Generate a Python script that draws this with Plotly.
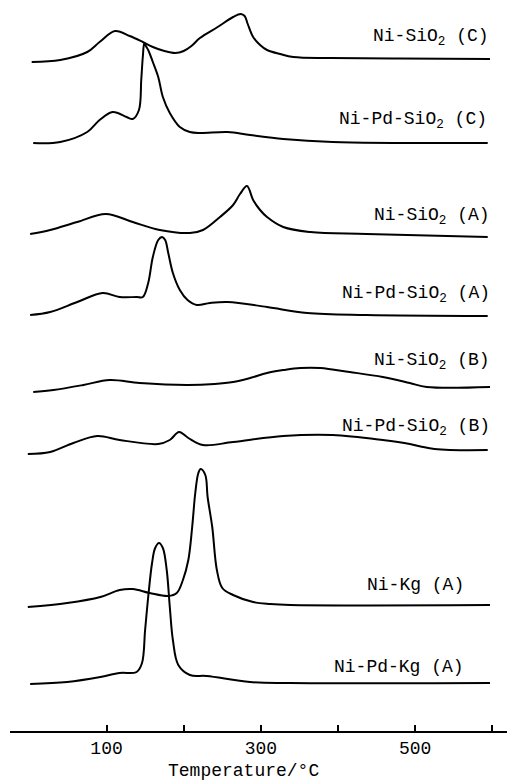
import plotly.graph_objects as go

# Temperature-programmed reduction profiles (signal in arbitrary units, offset per trace)
names = ["Ni-SiO<sub>2</sub> (C)", "Ni-Pd-SiO<sub>2</sub> (C)",
         "Ni-SiO<sub>2</sub> (A)", "Ni-Pd-SiO<sub>2</sub> (A)",
         "Ni-SiO<sub>2</sub> (B)", "Ni-Pd-SiO<sub>2</sub> (B)",
         "Ni-Kg (A)", "Ni-Pd-Kg (A)"]
offsets = [669, 588, 497, 416, 339, 277, 124, 47]

t_ni_si_c = [3, 40, 75, 91, 111, 130, 147, 160, 175, 189, 200, 210, 221, 244, 264, 274, 279, 283, 290, 299, 308, 325, 342, 390, 480, 597]
s_ni_si_c = [0, 2, 10, 20, 31, 26, 20, 15, 11, 9, 11, 16, 24, 35, 45, 48, 46, 38, 25, 17, 12, 8, 5, 4, 3.5, 3]

t_nipd_si_c = [5, 40, 75, 91, 108, 126, 134, 142, 145, 147, 149, 151, 154, 160, 167, 173, 182, 195, 208, 221, 257, 286, 329, 393, 594]
s_nipd_si_c = [0, 1, 11, 23, 31, 26, 24, 33, 63, 86, 100, 97, 93, 81, 66, 46, 30, 16, 11, 10, 11, 8, 4, 1, 0]

t_ni_si_a = [1, 27, 62, 99, 134, 169, 208, 225, 247, 264, 273, 282, 290, 299, 308, 329, 364, 437, 594]
s_ni_si_a = [0, 4, 12, 20, 12, 4, 1, 4, 17, 29, 40, 48, 34, 24, 17, 7, 2, 0, -3]

t_nipd_si_a = [1, 27, 62, 95, 117, 139, 147, 154, 160, 167, 172, 176, 180, 186, 195, 205, 217, 234, 257, 308, 360, 437, 594]
s_nipd_si_a = [0, 3, 13, 22, 18, 18, 18, 32, 58, 75, 78, 75, 62, 42, 25, 15, 10, 12, 13, 8, 2, 0, -1]

t_ni_si_b = [5, 31, 70, 104, 143, 204, 240, 264, 286, 308, 330, 351, 377, 415, 458, 493, 515, 597]
s_ni_si_b = [0, 2, 7, 12, 9, 7, 8, 10, 14, 19, 22, 24, 24, 20, 15, 9, 5, 5]

t_nipd_si_b = [-2, 27, 57, 88, 117, 167, 182, 194, 206, 225, 264, 329, 393, 458, 493, 510, 525, 545, 594]
s_nipd_si_b = [0, 2, 11, 18, 14, 10, 14, 22, 16, 9, 12, 18, 19, 14, 10, 7, 5, 4, 4]

t_ni_kg_a = [-2, 49, 92, 117, 134, 156, 180, 191, 199, 206, 211, 215, 219, 222, 228, 231, 237, 243, 250, 264, 290, 312, 338, 597]
s_ni_kg_a = [0, 4, 10, 17, 18, 14, 11, 14, 27, 47, 80, 114, 134, 138, 132, 110, 80, 37, 19, 12, 5, 3, 2, 2]

t_nipd_kg_a = [1, 49, 92, 117, 139, 146, 150, 154, 159, 163, 168, 173, 178, 182, 186, 193, 208, 230, 286, 338, 597]
s_nipd_kg_a = [0, 2, 7, 11, 12, 21, 54, 87, 121, 136, 141, 136, 114, 77, 44, 19, 9, 8, 2, 1, 1]

temps = [t_ni_si_c, t_nipd_si_c, t_ni_si_a, t_nipd_si_a,
         t_ni_si_b, t_nipd_si_b, t_ni_kg_a, t_nipd_kg_a]
signals = [s_ni_si_c, s_nipd_si_c, s_ni_si_a, s_nipd_si_a,
           s_ni_si_b, s_nipd_si_b, s_ni_kg_a, s_nipd_kg_a]

# label anchor (right edge temperature, vertical level)
label_x = [598, 596, 600, 600, 600, 600, 566, 566]
label_y = [694, 611, 515, 437, 370, 304, 146, 64]

tick_vals = [100, 200, 300, 400, 500, 600]
tick_text = ["100", "", "300", "", "500", ""]

FONT = "Liberation Mono"
FSIZE = 18

fig = go.Figure()
for t, s, off in zip(temps, signals, offsets):
    fig.add_trace(go.Scatter(
        x=t, y=[v + off for v in s], mode="lines",
        line=dict(color="black", width=2, shape="spline", smoothing=1.0),
        hoverinfo="skip", showlegend=False))

for name, lx, ly in zip(names, label_x, label_y):
    fig.add_annotation(x=lx, y=ly, xref="x", yref="y", text=name,
                       showarrow=False, xanchor="right", yanchor="middle",
                       font=dict(family=FONT, size=FSIZE, color="black"))

# axis title, set slightly left of the plot centre
fig.add_annotation(x=0.469, y=-0.0695, xref="paper", yref="paper",
                   text="Temperature/°C", showarrow=False,
                   xanchor="center", yanchor="bottom", borderpad=0,
                   font=dict(family=FONT, size=FSIZE, color="black"))

fig.update_layout(
    width=507, height=782,
    margin=dict(l=10, r=0, t=0, b=51),
    paper_bgcolor="white", plot_bgcolor="white",
    xaxis=dict(range=[-25.1, 619], showgrid=False, zeroline=False,
               showline=True, linecolor="black", linewidth=1.5,
               ticks="inside", ticklen=6, tickwidth=1.5, tickcolor="black",
               tickvals=tick_vals, ticktext=tick_text,
               tickfont=dict(family=FONT, size=FSIZE, color="black")),
    yaxis=dict(range=[0, 731], visible=False, showgrid=False, zeroline=False),
)

fig.write_html("out.html")
